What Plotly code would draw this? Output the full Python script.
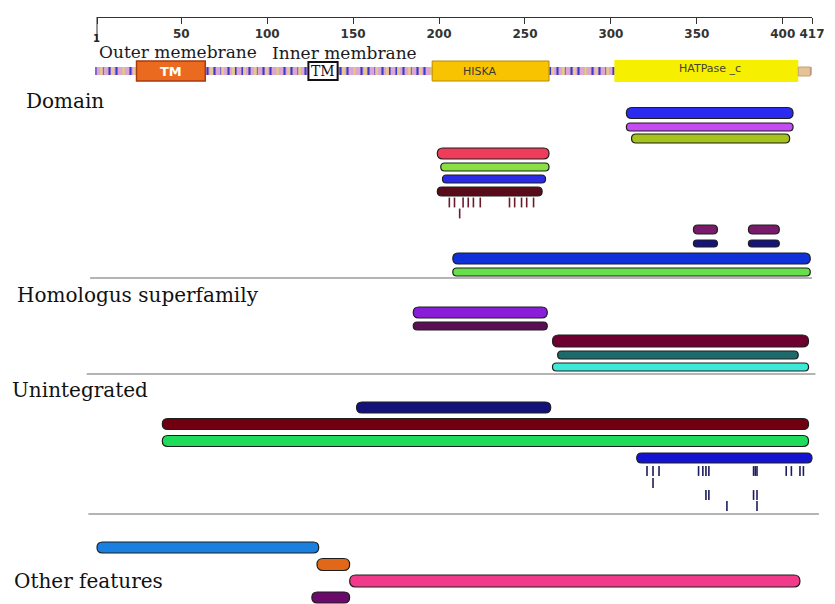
import plotly.graph_objects as go

# ---------------- data ----------------
seq_length = 417
ruler_tickvals = [1, 50, 100, 150, 200, 250, 300, 350, 400, 417]
ruler_ticktext = ["", "50", "100", "150", "200", "250", "300", "350", "400", "417"]

ruler_labels = ["TM", "TM", "HISKA", "HATPase _c", ""]
ruler_start = [24, 124, 196, 302, 409]
ruler_end = [64, 141, 264, 409, 416]

region_labels = ["Outer memebrane", "Inner membrane"]
section_labels = ["Domain", "Homologus superfamily", "Unintegrated", "Other features"]

domain_start = [309, 309, 312, 199, 201, 202, 199, 348, 380, 348, 380, 208, 208]
domain_end = [406, 406, 404, 264, 264, 262, 260, 362, 398, 362, 398, 416, 416]
domain_sites_1 = [206, 209, 214, 217, 220, 224, 241, 244, 248, 251, 255]
domain_sites_2 = [212]

homolog_start = [185, 185, 266, 269, 266]
homolog_end = [263, 263, 415, 409, 415]

unint_start = [152, 39, 39, 315]
unint_end = [265, 415, 415, 417]
unint_sites_1 = [321, 324.5, 328, 351, 353.5, 355.3, 357, 383, 384, 385, 402, 405, 410, 412]
unint_sites_2 = [324.5]
unint_sites_3 = [355.3, 357, 383, 385]
unint_sites_4 = [367.5, 385]

other_start = [1, 129, 148, 126]
other_end = [130, 148, 410, 148]

# ---------------- styles / layout ----------------
PAGE_W, PAGE_H = 835, 604
OFF = 8                       # page body margin in the browser
W, H = PAGE_W - OFF, PAGE_H - OFF
PX_A, PX_B = 97 - OFF, 812 - OFF   # figure pixel columns of residue 1 and residue 417
S = (PX_B - PX_A) / (seq_length - 1)
XMIN = 1 - PX_A / S
XMAX = 1 + (W - PX_A) / S

domain_y = [113, 127, 138.5, 153.5, 167, 179, 191.5, 229.5, 229.5, 243.5, 243.5, 258.5, 272]
domain_h = [11, 8, 9, 11, 8, 8, 9, 9, 9, 7, 7, 11, 8]
domain_c = ["#2b2bef", "#c54cf0", "#a6c21c", "#ee3c5a", "#88e045", "#2a2ae8", "#5a0a18",
            "#7a1a6a", "#7a1a6a", "#15157a", "#15157a", "#1030d8", "#66e04a"]

homolog_y = [312.5, 326, 341, 355, 367]
homolog_h = [11, 8, 12, 8, 8]
homolog_c = ["#8a1ed8", "#5a0f55", "#6e0030", "#1e6a6a", "#3ee8d8"]

unint_y = [407.5, 424, 441, 458]
unint_h = [11, 11, 11, 10]
unint_c = ["#12127a", "#700010", "#1edc5a", "#1414d0"]

other_y = [547.5, 564.5, 581, 597.5]
other_h = [11, 12, 12, 11]
other_c = ["#1a80e0", "#e06818", "#f23a8a", "#6a0a6a"]

OUTLINE = "#1e1e1e"
SERIF = "DejaVu Serif"


def pill(x0, x1, yc, h, fill):
    rx = (h / 2) / S
    yt, yb = yc - h / 2, yc + h / 2
    path = (f"M {x0 + rx},{yt} L {x1 - rx},{yt} Q {x1},{yt} {x1},{yc} "
            f"Q {x1},{yb} {x1 - rx},{yb} L {x0 + rx},{yb} Q {x0},{yb} {x0},{yc} "
            f"Q {x0},{yt} {x0 + rx},{yt} Z")
    return dict(type="path", path=path, xref="x", yref="y", fillcolor=fill,
                line=dict(color=OUTLINE, width=1.2), layer="above")


shapes = []
for st, en, y, h, c in zip(domain_start, domain_end, domain_y, domain_h, domain_c):
    shapes.append(pill(st, en, y, h, c))
for st, en, y, h, c in zip(homolog_start, homolog_end, homolog_y, homolog_h, homolog_c):
    shapes.append(pill(st, en, y, h, c))
for st, en, y, h, c in zip(unint_start, unint_end, unint_y, unint_h, unint_c):
    shapes.append(pill(st, en, y, h, c))
for st, en, y, h, c in zip(other_start, other_end, other_y, other_h, other_c):
    shapes.append(pill(st, en, y, h, c))

# separators
for y, xa, xb in [(278, -3, 417), (374, -5, 419), (514, -4, 421)]:
    shapes.append(dict(type="line", xref="x", yref="y", x0=xa, x1=xb, y0=y, y1=y,
                       line=dict(color="#b4b4b4", width=2), layer="below"))

# ruler feature boxes
ruler_fill = ["#ea6a1f", "#ffffff", "#f8c300", "#f7ef00", "#e5c396"]
ruler_line = ["#a83a10", "#111111", "#b88a00", "#f7ef00", "#c8a070"]
ruler_lw = [1.5, 2, 1, 0, 1]
ruler_y0 = [61, 62, 61, 60, 67]
ruler_y1 = [81, 80, 81, 82, 76]
for st, en, f, lc, lw, y0, y1 in zip(ruler_start, ruler_end, ruler_fill, ruler_line,
                                      ruler_lw, ruler_y0, ruler_y1):
    shapes.append(dict(type="rect", xref="x", yref="y", x0=st, x1=en, y0=y0, y1=y1,
                       fillcolor=f, line=dict(color=lc, width=lw), layer="above"))

# long tick at residue 1
shapes.append(dict(type="line", xref="x", yref="y", x0=1, x1=1, y0=17, y1=40,
                   line=dict(color="#333333", width=1)))

fig = go.Figure()

# patterned sequence bar (two overlaid stripe patterns)
fig.add_trace(go.Bar(
    x=[seq_length], base=[0], y=[71], orientation="h", width=8,
    marker=dict(color="#d9a6cf", line=dict(width=0),
                pattern=dict(shape="|", fgcolor="#3a3ac8", bgcolor="#dca6d2",
                             size=7, solidity=0.3)),
    hoverinfo="skip", showlegend=False))
fig.add_trace(go.Bar(
    x=[seq_length], base=[0], y=[71], orientation="h", width=8,
    marker=dict(color="rgba(0,0,0,0)", line=dict(width=0),
                pattern=dict(shape="|", fgcolor="#e8c88c", bgcolor="rgba(0,0,0,0)",
                             size=11, solidity=0.25)),
    hoverinfo="skip", showlegend=False))


def sites(xs, y, color):
    return go.Scatter(x=xs, y=[y] * len(xs), mode="markers",
                      marker=dict(symbol="line-ns", size=7,
                                  line=dict(color=color, width=1.6)),
                      hoverinfo="skip", showlegend=False)


fig.add_trace(sites(domain_sites_1, 202.5, "#6b1a2a"))
fig.add_trace(sites(domain_sites_2, 213.5, "#6b1a2a"))
fig.add_trace(sites(unint_sites_1, 471, "#1c1c5c"))
fig.add_trace(sites(unint_sites_2, 483, "#1c1c5c"))
fig.add_trace(sites(unint_sites_3, 495, "#1c1c5c"))
fig.add_trace(sites(unint_sites_4, 506, "#1c1c5c"))

# trace anchoring the ruler axis
fig.add_trace(go.Scatter(x=ruler_tickvals, y=[17] * len(ruler_tickvals), xaxis="x2",
                         mode="markers", marker=dict(opacity=0), hoverinfo="skip",
                         showlegend=False))

annotations = []


def px2paper(px):
    return (px - OFF) / W


# region labels
for txt, px, py in zip(region_labels, [97, 270], [52, 53]):
    annotations.append(dict(text=txt, x=px2paper(px), y=py, xref="paper", yref="y",
                            xanchor="left", yanchor="middle", showarrow=False,
                            font=dict(family=SERIF, size=17, color="#1a1a22")))

# section labels
for txt, px, py in zip(section_labels, [24, 15, 10, 12], [101, 295, 390, 581]):
    annotations.append(dict(text=txt, x=px2paper(px), y=py, xref="paper", yref="y",
                            xanchor="left", yanchor="middle", showarrow=False,
                            font=dict(family=SERIF, size=20, color="#111111")))

# ruler feature texts
annotations.append(dict(text="TM", x=(ruler_start[0] + ruler_end[0]) / 2, y=71, xref="x",
                        yref="y", showarrow=False,
                        font=dict(family="DejaVu Sans", size=13, color="#ffffff",
                                  weight="bold")))
annotations.append(dict(text="TM", x=(ruler_start[1] + ruler_end[1]) / 2, y=71, xref="x",
                        yref="y", showarrow=False,
                        font=dict(family=SERIF, size=14, color="#111111")))
annotations.append(dict(text=ruler_labels[2], x=ruler_start[2] + 28, y=71, xref="x",
                        yref="y", showarrow=False,
                        font=dict(family="DejaVu Sans", size=11, color="#3a3a38")))
annotations.append(dict(text=ruler_labels[3], x=(ruler_start[3] + ruler_end[3]) / 2 + 2,
                        y=68, xref="x", yref="y", showarrow=False,
                        font=dict(family="DejaVu Sans", size=11, color="#444433")))
annotations.append(dict(text="1", x=px2paper(91), y=38.5, xref="paper", yref="y",
                        showarrow=False,
                        font=dict(family="DejaVu Sans", size=10, color="#222222",
                                  weight="bold")))

fig.update_layout(
    width=W, height=H, template="none", barmode="overlay",
    margin=dict(l=0, r=0, t=0, b=0, pad=0),
    paper_bgcolor="white", plot_bgcolor="rgba(0,0,0,0)",
    showlegend=False, hovermode=False,
    xaxis=dict(range=[XMIN, XMAX], domain=[0, 1], visible=False, fixedrange=True,
               automargin=False),
    yaxis=dict(range=[PAGE_H, OFF], domain=[0, 1], visible=False, fixedrange=True,
               automargin=False),
    xaxis2=dict(range=[1, seq_length], domain=[PX_A / W, PX_B / W], anchor="free",
                position=1 - (17 - OFF) / H, side="bottom", showline=True,
                linecolor="#333333", linewidth=1, ticks="outside", ticklen=6,
                tickcolor="#333333", tickvals=ruler_tickvals, ticktext=ruler_ticktext,
                showgrid=False, zeroline=False, automargin=False, fixedrange=True,
                tickfont=dict(family="DejaVu Sans", size=12, color="#333333",
                              weight="bold")),
    shapes=shapes, annotations=annotations,
)

fig.write_html("out.html")
